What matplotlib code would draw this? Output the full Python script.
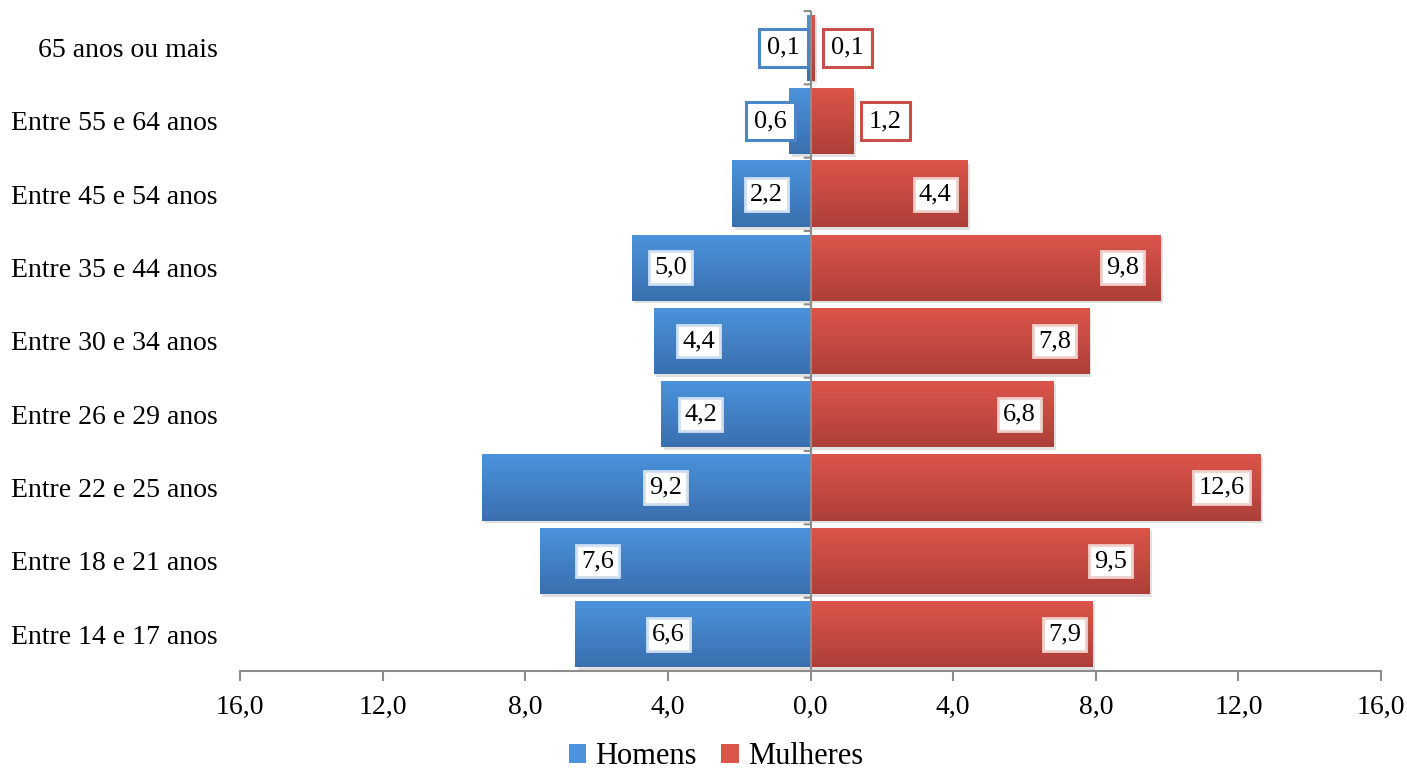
import numpy as np
import matplotlib
matplotlib.use("Agg")
import matplotlib.pyplot as plt
from matplotlib.colors import LinearSegmentedColormap
from matplotlib import patheffects as pe
from matplotlib.ticker import FixedLocator, FuncFormatter
from matplotlib.patches import Patch

# ---- data (bottom to top) ----
categories = ["Entre 14 e 17 anos", "Entre 18 e 21 anos", "Entre 22 e 25 anos",
              "Entre 26 e 29 anos", "Entre 30 e 34 anos", "Entre 35 e 44 anos",
              "Entre 45 e 54 anos", "Entre 55 e 64 anos", "65 anos ou mais"]
homens = [6.6, 7.6, 9.2, 4.2, 4.4, 5.0, 2.2, 0.6, 0.1]
mulheres = [7.9, 9.5, 12.6, 6.8, 7.8, 9.8, 4.4, 1.2, 0.1]
xticks = [-16, -12, -8, -4, 0, 4, 8, 12, 16]
series_names = ["Homens", "Mulheres"]

# ---- label layout (data-x centres of the value boxes) ----
homens_label_x = [-3.98, -5.97, -4.07, -3.08, -3.14, -3.93, -1.23, -1.12, -0.76]
mulheres_label_x = [7.12, 8.41, 11.53, 5.86, 6.84, 8.75, 3.5, 2.10, 1.04]
outside = [False, False, False, False, False, False, False, True, True]

plt.rcParams['font.family'] = ['Liberation Serif', 'DejaVu Serif']
FS_CAT = 20
FS_TICK = 20
FS_LBL = 19
FS_LEG = 22

fig = plt.figure(figsize=(14.07, 7.72), dpi=100)
ax = fig.add_axes([240/1407, 1-671/772, (1381-240)/1407, (671-11)/772])

blue_top, blue_bot = "#4b93dc", "#3a6fae"
red_top, red_bot = "#dc554b", "#ad3f38"
blue_edge, red_edge = "#4a86c8", "#c9504a"
axis_gray = '#8c8c8c'

y = np.arange(len(categories))
h = 0.9

shadow = [pe.SimplePatchShadow(offset=(2, -2), alpha=0.18, shadow_rgbFace='#555555'), pe.Normal()]
bars_m = ax.barh(y, [-v for v in homens], height=h, color=blue_top, zorder=2, path_effects=shadow)
bars_w = ax.barh(y, mulheres, height=h, color=red_top, zorder=2, path_effects=shadow)

grad = np.linspace(0, 1, 128)[:, None]
cm_b = LinearSegmentedColormap.from_list('b', [blue_bot, blue_top])
cm_r = LinearSegmentedColormap.from_list('r', [red_bot, red_top])
for bars, cm in ((bars_m, cm_b), (bars_w, cm_r)):
    for r in bars:
        x0, y0, w, hh = r.get_x(), r.get_y(), r.get_width(), r.get_height()
        ax.imshow(grad, extent=(x0, x0 + w, y0, y0 + hh), origin='lower',
                  cmap=cm, aspect='auto', zorder=2.5, interpolation='bilinear')

ax.set_xlim(-16, 16)
ax.set_ylim(-0.5, len(categories) - 0.5)

# value labels
for i in range(len(categories)):
    for vals, lx, edge, soft in ((homens, homens_label_x, blue_edge, '#cfe0f2'),
                                 (mulheres, mulheres_label_x, red_edge, '#f0cfcb')):
        txt = f"{vals[i]:.1f}".replace('.', ',')
        if outside[i]:
            bb = dict(boxstyle='square,pad=0.3', fc='white', ec=edge, lw=2.2)
        else:
            bb = dict(boxstyle='square,pad=0.2', fc='white', ec=soft, lw=2)
        ax.text(lx[i], y[i], txt, ha='center', va='center', fontsize=FS_LBL,
                bbox=bb, zorder=5)

# centre axis line with category boundary ticks
ax.axvline(0, color=axis_gray, lw=1.5, zorder=3)
for b in np.arange(-0.5, len(categories), 1.0):
    ax.annotate("", xy=(0, b), xycoords='data', xytext=(-6, 0), textcoords='offset pixels',
                arrowprops=dict(arrowstyle='-', color=axis_gray, lw=1.5, shrinkA=0, shrinkB=0),
                zorder=3, annotation_clip=False)

# axes styling
for s in ('top', 'right', 'left'):
    ax.spines[s].set_visible(False)
ax.spines['bottom'].set_color(axis_gray)
ax.spines['bottom'].set_linewidth(1.5)
ax.xaxis.set_major_locator(FixedLocator(xticks))
ax.xaxis.set_major_formatter(FuncFormatter(lambda v, p: f"{abs(v):.1f}".replace('.', ',')))
ax.tick_params(axis='x', direction='out', length=7, width=1.5, color=axis_gray,
               labelsize=FS_TICK, pad=10)
ax.set_yticks(y)
ax.set_yticklabels(categories)
ax.tick_params(axis='y', length=0, labelsize=FS_CAT, pad=16)

# legend
handles = [Patch(facecolor=blue_top, edgecolor='none'), Patch(facecolor=red_top, edgecolor='none')]
fig.legend(handles, series_names, loc='center', bbox_to_anchor=(716/1407, 1-757/772),
           ncol=2, frameon=False, fontsize=FS_LEG, handlelength=0.57, handleheight=0.57,
           handletextpad=0.3, columnspacing=0.8, borderpad=0)

fig.savefig("out.png", dpi=100)
